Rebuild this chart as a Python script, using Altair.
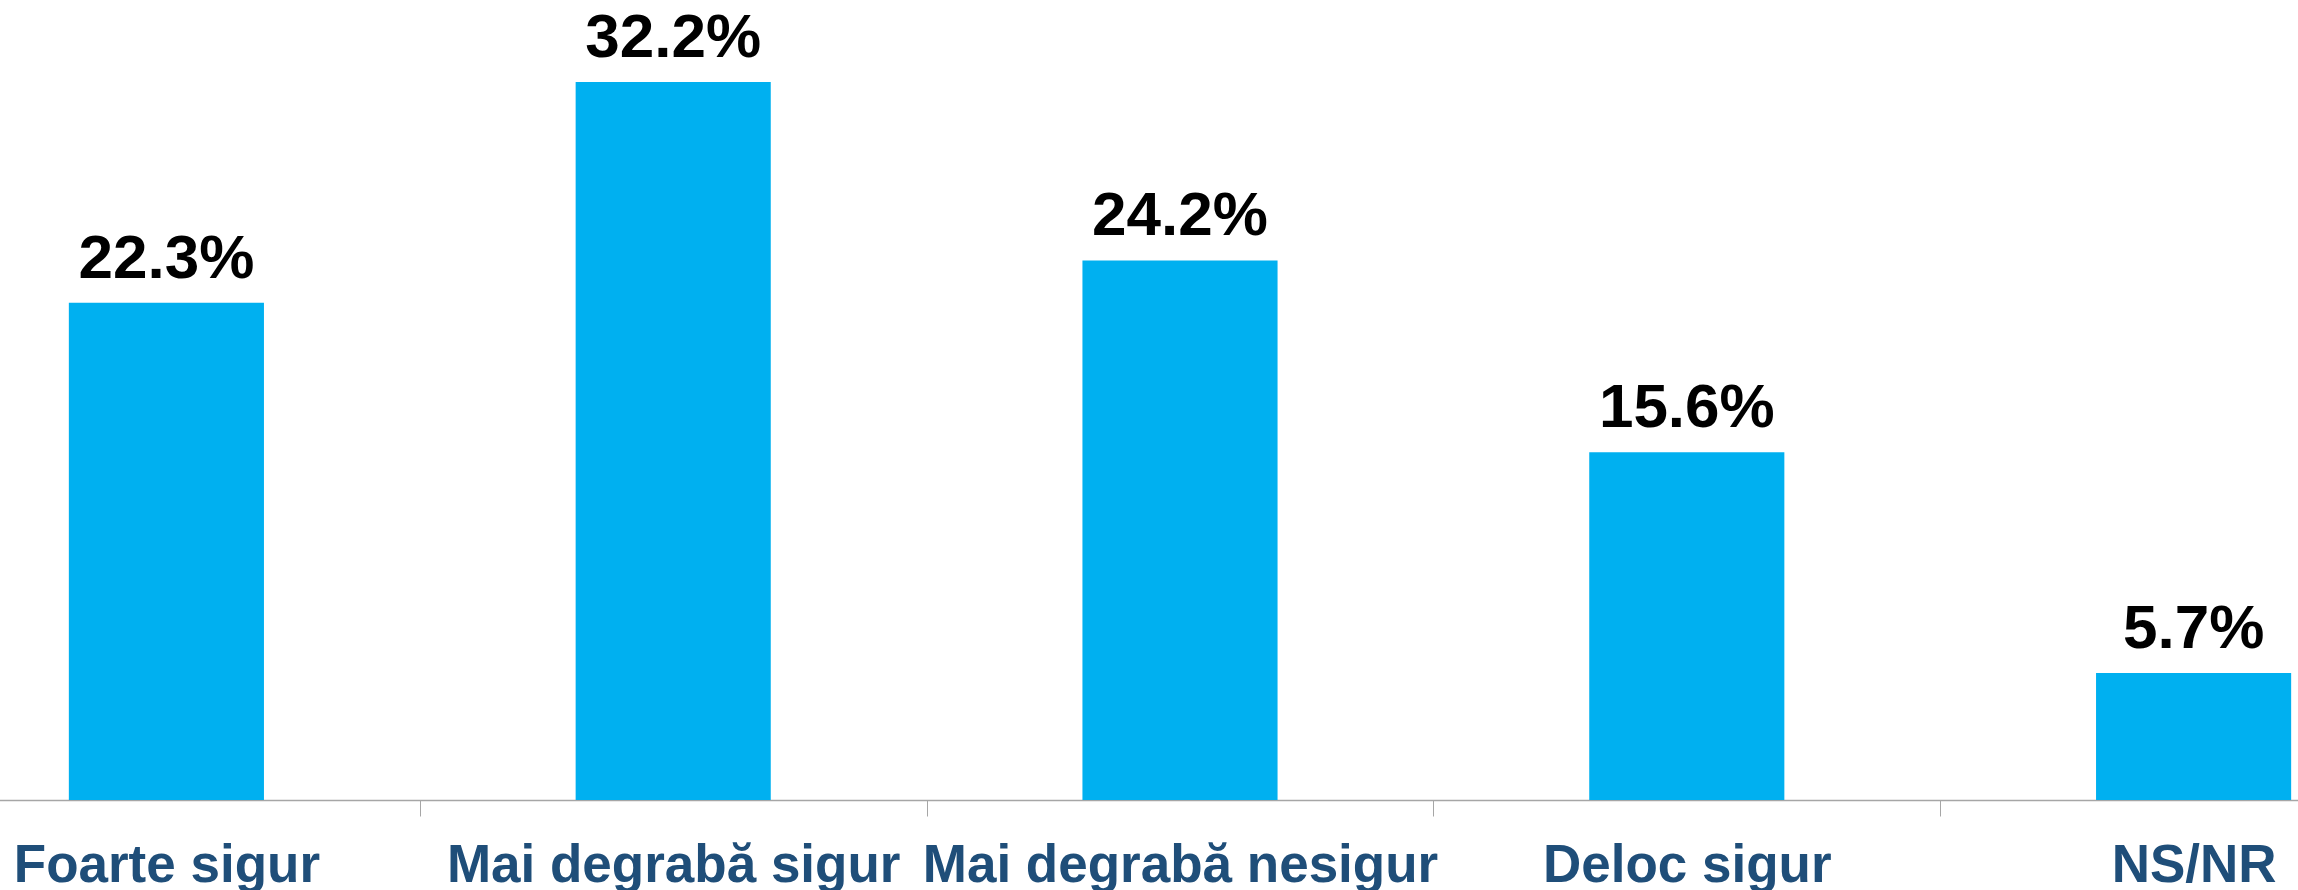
import altair as alt
import pandas as pd

categories = ["Foarte sigur", "Mai degrabă sigur", "Mai degrabă nesigur", "Deloc sigur", "NS/NR"]
values = [22.3, 32.2, 24.2, 15.6, 5.7]

df = pd.DataFrame({"cat": categories, "val": values})

x = alt.X(
    "cat:N",
    sort=categories,
    scale=alt.Scale(range=[-87, 2447], paddingInner=0, paddingOuter=0),
    axis=alt.Axis(
        title=None,
        labelAngle=0,
        tickBand="extent",
        labelFont="Liberation Sans",
        labelFontWeight="bold",
        labelFontSize=53,
        labelColor="#1F4E79",
        labelBaseline="alphabetic",
        labelPadding=65,
        labelLimit=0,
        tickSize=16,
        tickColor="#A6A6A6",
        tickWidth=1,
        domainColor="#A6A6A6",
        domainWidth=1.5,
        labelOverlap=False,
        labelBound=False,
        labelFlush=False,
        grid=False,
    ),
)
y = alt.Y("val:Q", scale=alt.Scale(domain=[0, 35.88], nice=False, zero=True), axis=None)

base = alt.Chart(df).encode(x=x, y=y)

bars = base.mark_bar(color="#00B0F0", width={"band": 0.385})
labels = base.transform_calculate(
    lab="format(datum.val, '.1f') + '%'"
).mark_text(
    font="Liberation Sans",
    fontWeight="bold",
    fontSize=62,
    color="#000000",
    baseline="alphabetic",
    align="center",
    dy=-25,
).encode(text="lab:N")

chart = (
    alt.layer(bars, labels)
    .properties(
        width=2298,
        height=800,
        padding={"left": 0, "right": 0, "top": 0, "bottom": 90},
        autosize=alt.AutoSizeParams(type="none"),
        background="white",
    )
    .configure_view(stroke=None)
)

chart.save("out.html", embed_options={"renderer": "svg", "actions": False})
